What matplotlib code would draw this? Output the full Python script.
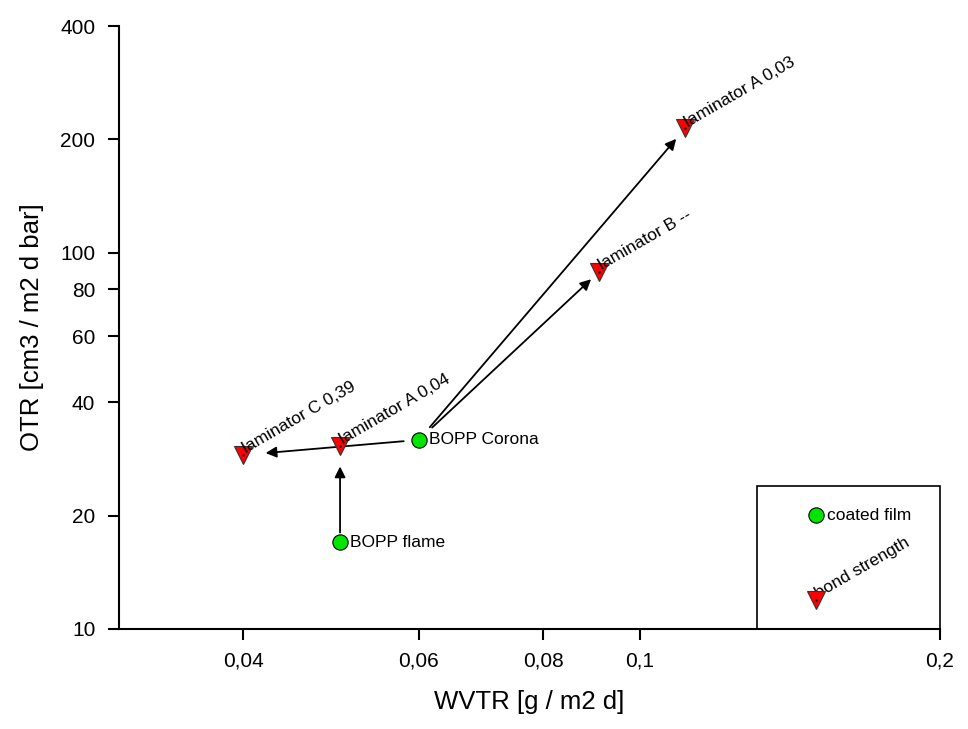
import matplotlib
matplotlib.use("Agg")
import matplotlib.pyplot as plt
from matplotlib.ticker import FixedLocator, FixedFormatter, NullLocator
from matplotlib.patches import Rectangle

plt.rcParams['font.family'] = ['Liberation Sans', 'DejaVu Sans']

# Coated films (green circles)
film_names = ["BOPP Corona", "BOPP flame"]
film_wvtr = [0.060, 0.050]
film_otr = [31.8, 17.0]

# Laminated samples with bond strength (red triangles)
lam_names = ["laminator C 0,39", "laminator A 0,04", "laminator A 0,03", "laminator B --"]
lam_wvtr = [0.040, 0.050, 0.111, 0.091]
lam_otr = [29.0, 30.7, 214.0, 89.0]

# Arrows: (from film index, to laminate index)
links = [(0, 0), (0, 2), (0, 3), (1, 1)]
shrinks = [(11, 16), (12, 10), (13, 8), (7, 15)]

x_ticks = [0.04, 0.06, 0.08, 0.1, 0.2]
x_ticklabels = ["0,04", "0,06", "0,08", "0,1", "0,2"]
y_ticks = [10, 20, 40, 60, 80, 100, 200, 400]
y_ticklabels = ["10", "20", "40", "60", "80", "100", "200", "400"]

green = "#00e600"
red = "#ff0000"
label_fs = 12.5

fig = plt.figure(figsize=(9.68, 7.29), dpi=100)
ax = fig.add_axes([0.1229, 0.1372, 0.8482, 0.8271])
ax.set_xscale("log")
ax.set_yscale("log")
ax.set_xlim(0.03, 0.2)
ax.set_ylim(10, 400)

for s in ("top", "right"):
    ax.spines[s].set_visible(False)
for s in ("left", "bottom"):
    ax.spines[s].set_linewidth(1.5)

ax.xaxis.set_major_locator(FixedLocator(x_ticks))
ax.xaxis.set_major_formatter(FixedFormatter(x_ticklabels))
ax.xaxis.set_minor_locator(NullLocator())
ax.yaxis.set_major_locator(FixedLocator(y_ticks))
ax.yaxis.set_major_formatter(FixedFormatter(y_ticklabels))
ax.yaxis.set_minor_locator(NullLocator())
ax.tick_params(direction="out", length=8, width=1.5, labelsize=15)
ax.tick_params(axis="y", pad=9)
ax.tick_params(axis="x", pad=8)

ax.set_xlabel("WVTR [g / m2 d]", fontsize=18.5, labelpad=14)
ax.set_ylabel("OTR [cm3 / m2 d bar]", fontsize=18.5, labelpad=12)

# Arrows from base film to laminate
for (fi, li), (sa, sb) in zip(links, shrinks):
    ax.annotate("", xy=(lam_wvtr[li], lam_otr[li]),
                xytext=(film_wvtr[fi], film_otr[fi]),
                arrowprops=dict(arrowstyle="-|>", color="black", lw=1.3,
                                mutation_scale=16, shrinkA=sa, shrinkB=sb),
                zorder=2)

ax.plot(film_wvtr, film_otr, "o", ms=11, mfc=green, mec="black", mew=0.8,
        ls="none", zorder=4, clip_on=False)
ax.plot(lam_wvtr, lam_otr, "v", ms=12.5, mfc=red, mec="#333333", mew=0.8,
        ls="none", zorder=4, clip_on=False)
ax.plot(lam_wvtr, lam_otr, ".", ms=1.5, color="black", ls="none", zorder=5)

for name, x, y in zip(film_names, film_wvtr, film_otr):
    ax.annotate(name, (x, y), xytext=(7, 0), textcoords="offset points",
                ha="left", va="center", fontsize=label_fs, zorder=6)

for name, x, y in zip(lam_names, lam_wvtr, lam_otr):
    ax.annotate(name, (x, y), xytext=(2, 1), textcoords="offset points",
                ha="left", va="baseline", rotation=30, rotation_mode="anchor",
                fontsize=label_fs, zorder=6)

# Key box in the lower right corner
ax.add_patch(Rectangle((0.777, 0.0), 0.223, 0.237, transform=ax.transAxes,
                       fill=False, ec="black", lw=1.2, zorder=3, clip_on=False))
ax.plot([0.849], [0.189], "o", ms=11, mfc=green, mec="black", mew=0.8,
        transform=ax.transAxes, zorder=4)
ax.text(0.862, 0.189, "coated film", transform=ax.transAxes, ha="left",
        va="center", fontsize=label_fs)
ax.plot([0.849], [0.048], "v", ms=12.5, mfc=red, mec="#333333", mew=0.8,
        transform=ax.transAxes, zorder=4)
ax.plot([0.849], [0.048], ".", ms=1.5, color="black", transform=ax.transAxes, zorder=5)
ax.annotate("bond strength", (0.849, 0.048), xycoords="axes fraction",
            xytext=(2, 1), textcoords="offset points", ha="left", va="baseline",
            rotation=30, rotation_mode="anchor", fontsize=label_fs)

fig.savefig("out.png", dpi=100)
